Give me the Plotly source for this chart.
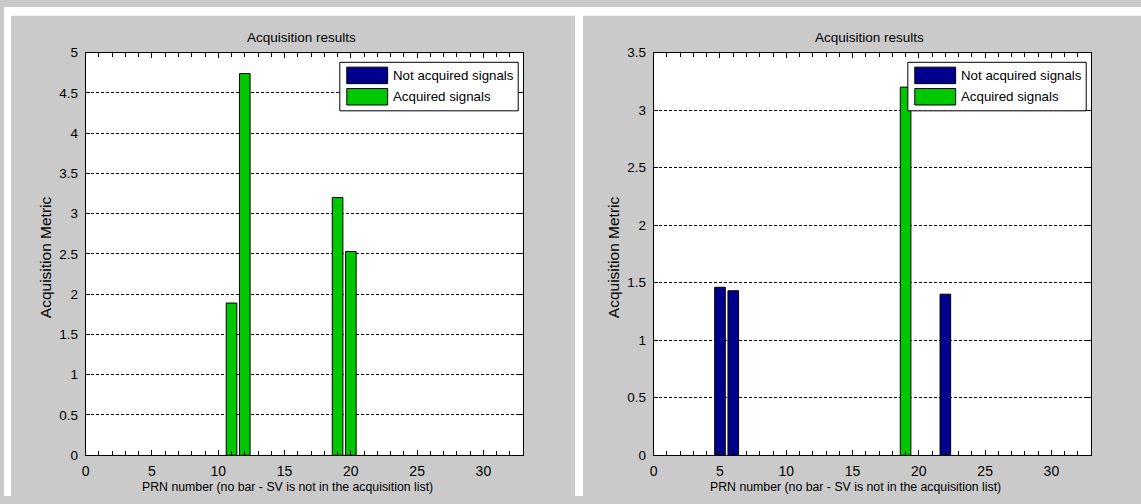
import plotly.graph_objects as go

W, H = 1141, 504

# ---------------- data ----------------
left_not_prn = []
left_not_val = []
left_acq_prn = [11, 12, 19, 20]
left_acq_val = [1.89, 4.74, 3.20, 2.53]

right_not_prn = [5, 6, 22]
right_not_val = [1.46, 1.43, 1.40]
right_acq_prn = [19]
right_acq_val = [3.20]

x_major_ticks = [0, 5, 10, 15, 20, 25, 30]
left_y_ticks = [0, 0.5, 1, 1.5, 2, 2.5, 3, 3.5, 4, 4.5, 5]
right_y_ticks = [0, 0.5, 1, 1.5, 2, 2.5, 3, 3.5]
legend_labels = ["Not acquired signals", "Acquired signals"]
chart_title = "Acquisition results"
x_label = "PRN number (no bar - SV is not in the acquisition list)"
y_label = "Acquisition Metric"

# ---------------- style ----------------
NOT_COLOR = "#00008c"
ACQ_COLOR = "#00c800"
BG_GRAY = "#cacaca"
FONT = "Liberation Sans, Arial, sans-serif"


def px(x):
    return x / W


def py(y):
    return 1 - y / H


panels = [
    dict(off=0, xa="x", ya="y", not_prn=left_not_prn, not_val=left_not_val,
         acq_prn=left_acq_prn, acq_val=left_acq_val, yticks=left_y_ticks),
    dict(off=570, xa="x2", ya="y2", not_prn=right_not_prn, not_val=right_not_val,
         acq_prn=right_acq_prn, acq_val=right_acq_val, yticks=right_y_ticks),
]

fig = go.Figure()
shapes = []
annotations = []

# white strips outside the grey panels
shapes.append(dict(type="rect", xref="paper", yref="paper", x0=0, x1=1, y0=py(9), y1=1,
                   fillcolor="white", line=dict(width=0), layer="below"))
shapes.append(dict(type="rect", xref="paper", yref="paper", x0=0, x1=px(7), y0=0, y1=1,
                   fillcolor="white", line=dict(width=0), layer="below"))
shapes.append(dict(type="rect", xref="paper", yref="paper", x0=px(573), x1=px(581), y0=0, y1=1,
                   fillcolor="white", line=dict(width=0), layer="below"))

layout_axes = {}
for i, p in enumerate(panels):
    o = p["off"]
    fig.add_trace(go.Bar(x=p["not_prn"], y=p["not_val"], width=0.8,
                         marker=dict(color=NOT_COLOR, line=dict(color="black", width=1)),
                         xaxis=p["xa"], yaxis=p["ya"], showlegend=False,
                         name=legend_labels[0]))
    fig.add_trace(go.Bar(x=p["acq_prn"], y=p["acq_val"], width=0.8,
                         marker=dict(color=ACQ_COLOR, line=dict(color="black", width=1)),
                         xaxis=p["xa"], yaxis=p["ya"], showlegend=False,
                         name=legend_labels[1]))
    xname = "xaxis" if i == 0 else "xaxis2"
    yname = "yaxis" if i == 0 else "yaxis2"
    ymax = p["yticks"][-1]
    layout_axes[xname] = dict(
        domain=[px(82 + o), px(521 + o)], range=[0, 33], anchor=p["ya"],
        tickvals=x_major_ticks, ticktext=[str(v) for v in x_major_ticks],
        ticks="inside", ticklen=5, tickcolor="black", tickwidth=1,
        minor=dict(dtick=1, ticks="inside", ticklen=4, tickcolor="black", tickwidth=1),
        showline=True, linecolor="black", linewidth=1, mirror="ticks",
        showgrid=False, zeroline=False, ticklabelstandoff=3,
        tickfont=dict(family=FONT, size=14, color="black"),
    )
    layout_axes[yname] = dict(
        domain=[py(462), py(47)], range=[0, ymax], anchor=p["xa"],
        tickvals=p["yticks"], ticktext=[("%g" % v) for v in p["yticks"]],
        ticks="inside", ticklen=4, tickcolor="black", tickwidth=1,
        showline=True, linecolor="black", linewidth=1, mirror="ticks",
        showgrid=True, gridcolor="black", gridwidth=1, griddash="3px,2px",
        zeroline=False, ticklabelstandoff=4,
        tickfont=dict(family=FONT, size=13.5, color="black"),
    )

    # titles
    annotations.append(dict(text=chart_title, xref="paper", yref="paper",
                            x=px(299 + o), y=py(31), xanchor="center", yanchor="middle",
                            showarrow=False, font=dict(family=FONT, size=13.5, color="black")))
    annotations.append(dict(text=x_label, xref="paper", yref="paper",
                            x=px(284 + o), y=py(495), xanchor="center", yanchor="middle",
                            showarrow=False, font=dict(family=FONT, size=12.3, color="black")))
    annotations.append(dict(text=y_label, xref="paper", yref="paper", textangle=-90,
                            x=px(41 + o), y=py(258), xanchor="center", yanchor="middle",
                            showarrow=False, font=dict(family=FONT, size=15.5, color="black")))

    # legend box
    shapes.append(dict(type="rect", xref="paper", yref="paper",
                       x0=px(337 + o), x1=px(516 + o), y0=py(107), y1=py(57),
                       fillcolor="white", line=dict(color="black", width=1), layer="above"))
    for j, (lab, col) in enumerate(zip(legend_labels, [NOT_COLOR, ACQ_COLOR])):
        yt = 62 + j * 22
        shapes.append(dict(type="rect", xref="paper", yref="paper",
                           x0=px(344 + o), x1=px(385 + o), y0=py(yt + 17), y1=py(yt),
                           fillcolor=col, line=dict(color="black", width=1), layer="above"))
        annotations.append(dict(text=lab, xref="paper", yref="paper",
                                x=px(388 + o), y=py(yt + 8.5), xanchor="left", yanchor="middle",
                                showarrow=False,
                                font=dict(family=FONT, size=13.3, color="black")))

fig.update_layout(
    width=W, height=H, margin=dict(l=0, r=0, t=0, b=0),
    paper_bgcolor=BG_GRAY, plot_bgcolor="white",
    barmode="overlay", showlegend=False,
    shapes=shapes, annotations=annotations,
    **layout_axes,
)

fig.write_html("out.html")
